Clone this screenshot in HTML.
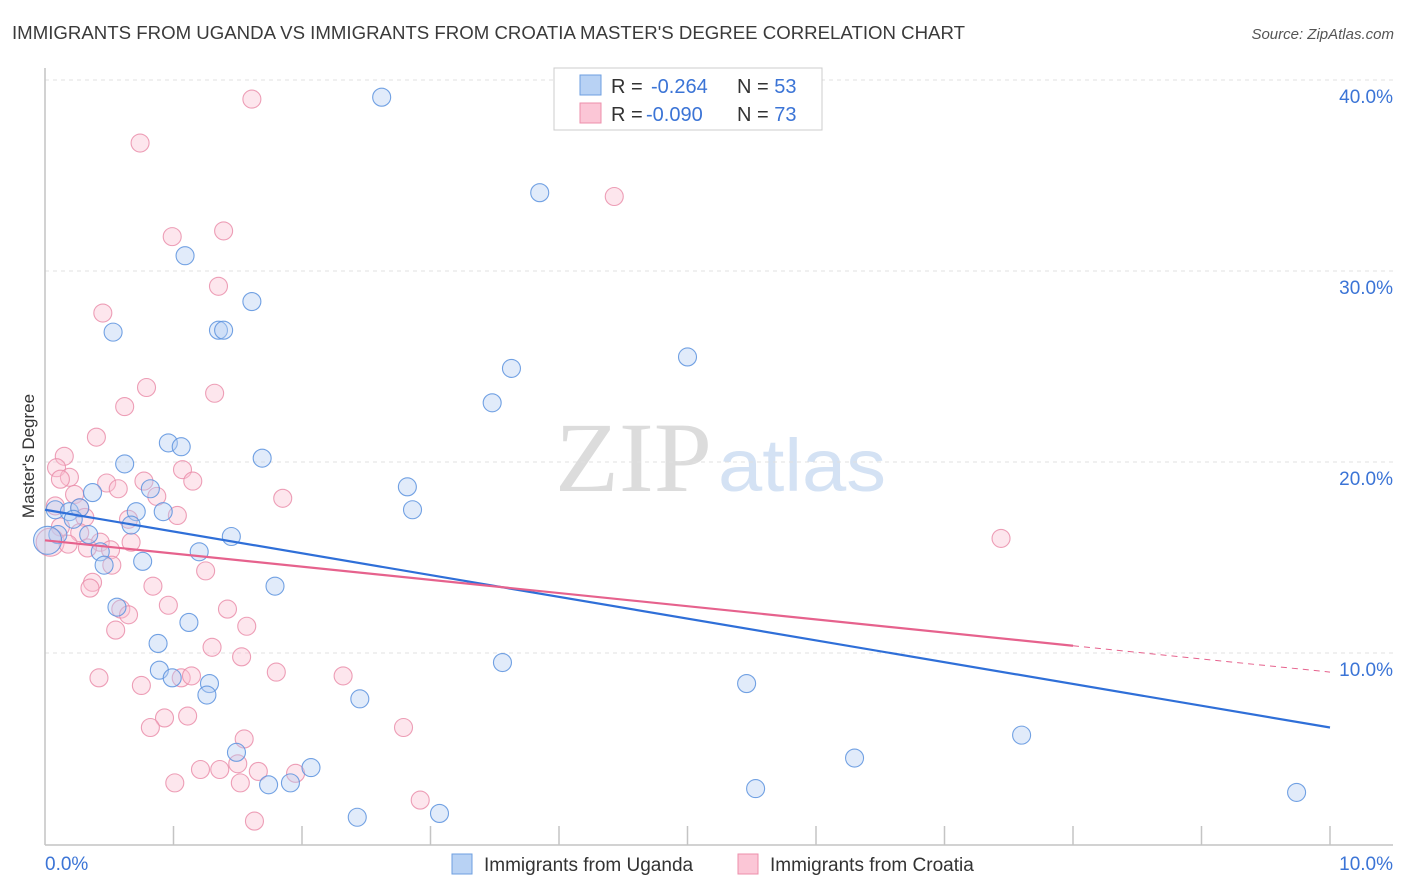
<!DOCTYPE html>
<html><head><meta charset="utf-8">
<style>
body{margin:0;background:#fff;font-family:"Liberation Sans",sans-serif;}
#wrap{position:relative;width:1406px;height:892px;overflow:hidden;}
</style></head>
<body>
<div id="wrap">
<svg id="chart" width="1406" height="892" xmlns="http://www.w3.org/2000/svg">
<text x="12" y="39" font-size="18" fill="#3a3a3a" textLength="953" lengthAdjust="spacingAndGlyphs" font-family="Liberation Sans, sans-serif">IMMIGRANTS FROM UGANDA VS IMMIGRANTS FROM CROATIA MASTER'S DEGREE CORRELATION CHART</text>
<text x="1394" y="39" font-size="15" fill="#555" font-style="italic" text-anchor="end">Source: ZipAtlas.com</text>
<text x="34" y="456" font-size="17" fill="#333" text-anchor="middle" transform="rotate(-90 34 456)">Master's Degree</text>
<g>
<text x="555" y="491" font-size="100" fill="#dcdcdc" font-family="Liberation Serif, serif" textLength="157" lengthAdjust="spacingAndGlyphs">ZIP</text>
<text x="718" y="491" font-size="74" fill="#d4e2f4" textLength="168" lengthAdjust="spacingAndGlyphs">atlas</text>
</g>
<g id="grid"></g>
<g id="axes"></g>
<g id="points"></g>
<g id="trends"></g>
<g>
<rect x="554" y="68" width="268" height="62" fill="#fff" stroke="#ccc"/>
<rect x="580" y="75" width="21" height="20" fill="#b8d2f4" stroke="#6e9fe0"/>
<rect x="580" y="103" width="21" height="20" fill="#fbc6d6" stroke="#ec8fab"/>
<text x="611" y="93" font-size="20" fill="#333">R = </text>
<text x="651" y="93" font-size="20" fill="#3b74d6">-0.264</text>
<text x="737" y="93" font-size="20" fill="#333">N = <tspan fill="#3b74d6">53</tspan></text>
<text x="611" y="121" font-size="20" fill="#333">R = </text>
<text x="646" y="121" font-size="20" fill="#3b74d6">-0.090</text>
<text x="737" y="121" font-size="20" fill="#333">N = <tspan fill="#3b74d6">73</tspan></text>
</g>
<g>
<rect x="452" y="854" width="20" height="20" fill="#b8d2f4" stroke="#6e9fe0"/>
<text x="484" y="871" font-size="19" fill="#333">Immigrants from Uganda</text>
<rect x="738" y="854" width="20" height="20" fill="#fbc6d6" stroke="#ec8fab"/>
<text x="770" y="871" font-size="19" fill="#333">Immigrants from Croatia</text>
</g>
</svg>
</div>
<script>
const yTicks=[10,20,30,40];
const yTickLabels=["10.0%","20.0%","30.0%","40.0%"];
const xTickLabels=["0.0%","10.0%"];
const ugandaX=[2.62,3.85,1.09,1.61,0.53,1.35,1.39,5.0,3.63,3.48,0.96,1.06,0.62,1.69,0.37,0.82,2.82,2.86,0.08,0.19,0.27,0.71,0.92,0.22,0.67,0.1,0.34,1.45,0.02,0.43,1.20,0.76,0.46,1.79,0.56,1.12,0.88,0.89,0.99,1.28,1.26,3.56,5.46,2.45,1.49,2.07,1.74,1.91,2.43,3.07,6.3,7.6,5.53,9.74];
const ugandaY=[39.1,34.1,30.8,28.4,26.8,26.9,26.9,25.5,24.9,23.1,21.0,20.8,19.9,20.2,18.4,18.6,18.7,17.5,17.5,17.4,17.6,17.4,17.4,17.0,16.7,16.2,16.2,16.1,15.9,15.3,15.3,14.8,14.6,13.5,12.4,11.6,10.5,9.1,8.7,8.4,7.8,9.5,8.4,7.6,4.8,4.0,3.1,3.2,1.4,1.6,4.5,5.7,2.9,2.7];
const croatiaX=[1.61,0.74,4.43,0.99,1.39,1.35,0.45,0.79,1.32,0.62,0.4,0.15,0.09,0.19,0.12,1.07,0.77,0.48,0.57,1.15,0.87,0.23,1.85,0.08,0.27,1.03,0.31,0.65,0.12,0.27,7.44,0.67,0.43,0.04,0.18,0.33,0.51,1.25,0.52,0.37,0.35,0.84,0.96,1.42,0.59,0.65,1.57,0.55,1.30,1.53,1.8,0.42,1.06,1.14,2.32,0.75,0.93,1.11,0.82,2.79,1.55,1.21,1.36,1.50,1.66,1.01,1.52,1.95,2.92,1.63];
const croatiaY=[39.0,36.7,33.9,31.8,32.1,29.2,27.8,23.9,23.6,22.9,21.3,20.3,19.7,19.2,19.1,19.6,19.0,18.9,18.6,19.0,18.2,18.3,18.1,17.7,17.6,17.2,17.1,17.0,16.6,16.3,16.0,15.8,15.8,15.8,15.7,15.5,15.4,14.3,14.6,13.7,13.4,13.5,12.5,12.3,12.3,12.0,11.4,11.2,10.3,9.8,9.0,8.7,8.7,8.8,8.8,8.3,6.6,6.7,6.1,6.1,5.5,3.9,3.9,4.2,3.8,3.2,3.2,3.7,2.3,1.2];
const ugandaTrend=[17.5,6.1];
const croatiaTrend=[15.9,9.0];
const croatiaSolidEnd=8.0;

const NS="http://www.w3.org/2000/svg";
const xs=v=>45+v*128.5;
const ys=v=>844-v*19.1;
function mk(tag,attrs,parent){const e=document.createElementNS(NS,tag);for(const k in attrs)e.setAttribute(k,attrs[k]);parent.appendChild(e);return e;}
const grid=document.getElementById('grid'),axes=document.getElementById('axes'),pts=document.getElementById('points'),tr=document.getElementById('trends');
yTicks.forEach((t,i)=>{
 const l=mk('line',{x1:45,x2:1393,y1:ys(t),y2:ys(t),stroke:'#e0e0e0','stroke-dasharray':'4 4'},grid);
 
 
 const tx=mk('text',{x:1393,y:ys(t)+23,'font-size':19,fill:'#3b74d6','text-anchor':'end'},axes);
 tx.textContent=yTickLabels[i];
 
 
});
const ya=mk('line',{x1:45,x2:45,y1:68,y2:845,stroke:'#c4c4c4','stroke-width':1.5},axes);


const xa=mk('line',{x1:45,x2:1393,y1:845,y2:845,stroke:'#c4c4c4','stroke-width':1.5},axes);


for(let i=1;i<=10;i++){
 const t=mk('line',{x1:xs(i),x2:xs(i),y1:826,y2:845,stroke:'#c4c4c4','stroke-width':1.5},axes);
 
 
}
[[0,'start',45],[10,'end',1393]].forEach((a,i)=>{
 const tx=mk('text',{x:a[2],y:870,'font-size':19,fill:'#3b74d6','text-anchor':a[1]},axes);
 tx.textContent=xTickLabels[i];
 
 
});
function drawPts(X,Y,fill,stroke,name){
 X.forEach((x,i)=>{
  const r=(x<0.05)?14:9;
  const c=mk('circle',{cx:xs(x),cy:ys(Y[i]),r:r,fill:fill,'fill-opacity':0.4,stroke:stroke,'stroke-width':1.1,'stroke-opacity':0.85},pts);
  
  
 });
}
drawPts(croatiaX,croatiaY,'#f9c0d1','#ea8eaa','croatia-point');
drawPts(ugandaX,ugandaY,'#b3cdf2','#5b92de','uganda-point');
const cy=v=>croatiaTrend[0]+(croatiaTrend[1]-croatiaTrend[0])*v/10;
const bl=mk('line',{x1:xs(0),y1:ys(ugandaTrend[0]),x2:xs(10),y2:ys(ugandaTrend[1]),stroke:'#2f6fd8','stroke-width':2.2},tr);


const pl=mk('line',{x1:xs(0),y1:ys(cy(0)),x2:xs(croatiaSolidEnd),y2:ys(cy(croatiaSolidEnd)),stroke:'#e6628d','stroke-width':2.2},tr);


const pd=mk('line',{x1:xs(croatiaSolidEnd),y1:ys(cy(croatiaSolidEnd)),x2:xs(10),y2:ys(cy(10)),stroke:'#e6628d','stroke-width':1,'stroke-dasharray':'6 5'},tr);


</script>
</body></html>
